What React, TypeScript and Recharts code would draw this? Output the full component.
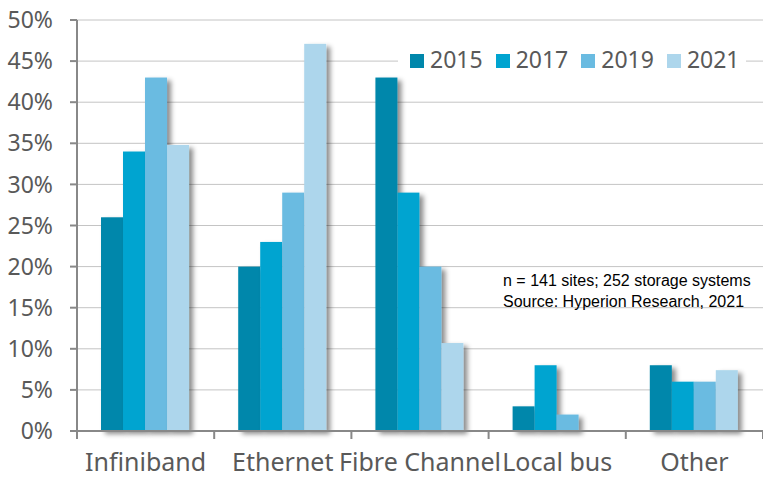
import React from "react";
import { BarChart, Bar, XAxis, YAxis, CartesianGrid, Legend } from "recharts";

// Categories and values
const categories = ["Infiniband", "Ethernet", "Fibre Channel", "Local bus", "Other"];
const years = ["2015", "2017", "2019", "2021"];
const values2015 = [26, 20, 43, 3, 8];
const values2017 = [34, 23, 29, 8, 6];
const values2019 = [43, 29, 20, 2, 6];
const values2021 = [34.8, 47.1, 10.7, 0, 7.4];
const yTicks = [0, 5, 10, 15, 20, 25, 30, 35, 40, 45, 50];
const colors = ["#0087AB", "#00A4D0", "#6ABBE1", "#ADD6EC"];
const noteLines = ["n = 141 sites; 252 storage systems", "Source: Hyperion Research, 2021"];

const series = [values2015, values2017, values2019, values2021];

const data = categories.map((name, i) => {
  const row: { [k: string]: string | number } = { name };
  years.forEach((y, s) => {
    row[y] = series[s][i];
  });
  return row;
});

const FONT = "'Noto Sans', 'Open Sans', sans-serif";
const TEXT = "#595959";
const AXIS = "#888888";

// Bar with a soft drop shadow to the right
const ShadowBar = (props: any) => {
  const { x, y, width, height, fill } = props;
  if (!height || height <= 0) return null;
  return <rect x={x} y={y} width={width} height={height} fill={fill} filter="url(#barShadow)" />;
};

// Category label centred, tick mark on the boundary between categories
const XTick = (props: any) => {
  const { x, y, payload, index } = props;
  const half = payload && payload.offset ? payload.offset : 68.6;
  const axisY = y - 10;
  return (
    <g>
      <line x1={x - half} x2={x - half} y1={axisY} y2={axisY + 8} stroke={AXIS} strokeWidth={2} />
      {index === categories.length - 1 && (
        <line x1={x + half} x2={x + half} y1={axisY} y2={axisY + 8} stroke={AXIS} strokeWidth={2} />
      )}
      <text x={x} y={axisY + 40} textAnchor="middle" fill={TEXT} fontSize={25} fontFamily={FONT}>
        {payload.value}
      </text>
    </g>
  );
};

const renderLegend = () => (
  <div
    style={{
      display: "flex",
      background: "#fff",
      padding: "0 6px 0 12px",
      height: 30,
      lineHeight: "30px",
      fontFamily: FONT,
      fontSize: 23,
      color: TEXT,
    }}
  >
    {years.map((y, i) => (
      <div key={y} style={{ marginRight: i < years.length - 1 ? 13 : 0, whiteSpace: "nowrap" }}>
        <span
          style={{
            display: "inline-block",
            width: 14,
            height: 14,
            background: colors[i],
            marginRight: 6,
            verticalAlign: "baseline",
          }}
        />
        {y}
      </div>
    ))}
  </div>
);

export default function App() {
  return (
    <div style={{ position: "absolute", left: 0, top: 0, width: 763, height: 482, background: "#fff" }}>
      <BarChart
        width={763}
        height={482}
        data={data}
        margin={{ top: 20, right: 0, bottom: 0, left: 0 }}
        barGap={0}
        barCategoryGap="17.5%"
      >
        <defs>
          <filter id="barShadow" filterUnits="userSpaceOnUse" x="0" y="0" width="763" height="482">
            <feDropShadow dx="4" dy="3" stdDeviation="2.5" floodColor="#000" floodOpacity="0.45" />
          </filter>
        </defs>
        <CartesianGrid vertical={false} stroke="#C4C4C4" strokeWidth={1} />
        <XAxis
          dataKey="name"
          height={51}
          interval={0}
          tickSize={8}
          tickMargin={2}
          tickLine={false}
          axisLine={{ stroke: AXIS, strokeWidth: 2 }}
          tick={<XTick />}
        />
        <YAxis
          width={77}
          domain={[0, 50]}
          ticks={yTicks}
          interval={0}
          tickFormatter={(v: number) => `${v}%`}
          tickSize={7}
          tickMargin={17}
          axisLine={{ stroke: AXIS, strokeWidth: 2 }}
          tickLine={{ stroke: AXIS, strokeWidth: 2 }}
          tick={{ fill: TEXT, fontSize: 23, fontFamily: FONT }}
        />
        <Legend
          layout="horizontal"
          verticalAlign="middle"
          align="center"
          content={renderLegend}
          wrapperStyle={{ top: 44, left: 398, width: "auto", height: "auto" }}
        />
        {years.map((y, i) => (
          <Bar key={y} dataKey={y} fill={colors[i]} shape={<ShadowBar />} isAnimationActive={false} />
        ))}
      </BarChart>
      <div
        style={{
          position: "absolute",
          left: 503,
          top: 271,
          fontFamily: "'Liberation Sans', Arial, sans-serif",
          fontSize: 16,
          lineHeight: "20.5px",
          color: "#000",
          whiteSpace: "nowrap",
        }}
      >
        {noteLines.map((t) => (
          <div key={t}>{t}</div>
        ))}
      </div>
    </div>
  );
}
